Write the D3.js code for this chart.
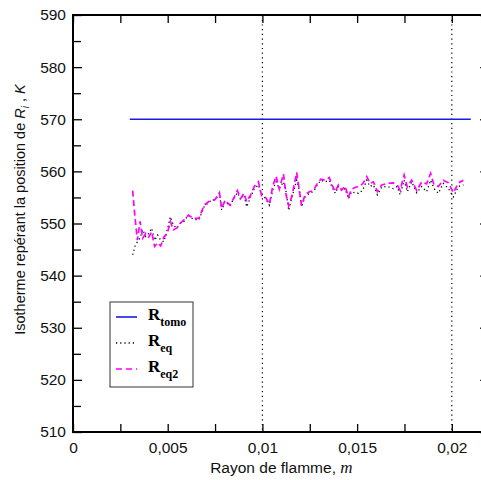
<!DOCTYPE html>
<html><head><meta charset="utf-8">
<script src="https://cdn.jsdelivr.net/npm/d3@7"></script>
<style>body{margin:0;background:#fff;overflow:hidden}svg{display:block;overflow:hidden}</style>
</head><body>
<svg id="c" width="481" height="480"></svg>
<script>
const xVals = [0.00315,0.00327,0.00340,0.00354,0.00368,0.00384,0.00400,0.00415,0.00431,0.00447,0.00463,0.00480,0.00498,0.00514,0.00530,0.00547,0.00565,0.00586,0.00609,0.00635,0.00665,0.00692,0.00720,0.00750,0.00773,0.00785,0.00803,0.00829,0.00852,0.00868,0.00885,0.00903,0.00917,0.00938,0.00957,0.00979,0.00996,0.01017,0.01037,0.01054,0.01072,0.01089,0.01111,0.01125,0.01139,0.01156,0.01181,0.01195,0.01207,0.01225,0.01248,0.01269,0.01290,0.01308,0.01331,0.01353,0.01371,0.01385,0.01401,0.01419,0.01436,0.01454,0.01471,0.01494,0.01515,0.01533,0.01551,0.01568,0.01586,0.01607,0.01630,0.01660,0.01691,0.01712,0.01727,0.01748,0.01765,0.01788,0.01815,0.01841,0.01867,0.01888,0.01906,0.01929,0.01955,0.01982,0.02008,0.02035,0.02061];
const rEq2 = [556.3,551.3,546.8,550.4,547.2,548.1,547.4,548.4,545.6,546.3,545.7,547.4,548.1,550.4,548.8,549.1,550.0,550.7,551.6,551.0,551.0,553.5,554.3,554.6,555.9,552.9,554.5,553.5,555.1,556.3,554.8,555.8,554.2,555.5,557.1,558.0,555.3,555.0,553.7,557.1,559.1,556.6,559.5,555.5,553.4,555.3,559.8,556.3,553.4,555.5,556.1,556.3,557.7,558.5,558.3,558.8,557.1,556.1,557.4,556.4,557.2,555.1,556.6,557.0,557.1,557.8,559.0,557.7,558.0,556.1,557.4,557.7,557.8,557.4,556.4,559.3,557.0,558.3,556.3,558.0,557.6,559.6,557.4,557.1,558.3,557.8,555.9,557.8,558.3];
const rEq = [544.0,545.6,546.5,547.2,548.8,547.5,548.1,549.1,546.8,547.8,546.8,546.5,548.8,551.3,549.7,549.1,550.0,550.4,551.6,550.8,550.7,553.2,554.2,554.5,555.8,552.6,554.2,553.4,555.0,555.9,554.6,555.5,553.2,555.1,556.7,557.4,555.5,554.8,553.5,556.4,558.0,556.7,558.0,556.1,552.5,555.1,558.3,556.4,553.2,555.1,555.8,556.1,557.4,558.3,558.0,558.3,556.7,555.8,557.1,556.3,556.7,554.8,556.1,555.8,555.8,556.7,558.3,557.1,557.4,555.5,557.0,557.1,556.7,557.1,555.5,558.3,556.1,558.0,555.9,557.1,556.1,558.3,556.7,555.8,557.7,556.7,555.1,557.1,557.4];
const rTomoX = [0.003, 0.021];
const rTomo = [570, 570];
const gridX = [0.01, 0.02];
const xTicks = [0, 0.005, 0.01, 0.015, 0.02];
const xTickLabels = ["0", "0,005", "0,01", "0,015", "0,02"];
const yTicks = [510, 520, 530, 540, 550, 560, 570, 580, 590];
const legendNames = ["tomo", "eq", "eq2"];

const svg = d3.select("#c");
const L = 73, R = 489.7, T = 15, B = 432;
const x = d3.scaleLinear().domain([0, 0.022]).range([L, R]);
const y = d3.scaleLinear().domain([510, 590]).range([B, T]);

// gridlines
svg.append("g").selectAll("line").data(gridX).join("line")
  .attr("x1", d => x(d)).attr("x2", d => x(d)).attr("y1", T).attr("y2", B)
  .attr("stroke", "#000").attr("stroke-width", 1.2).attr("stroke-dasharray", "1.2,3.5");

const font = "'Liberation Sans', Arial, sans-serif";

// axes with inward ticks
const xMinor = d3.range(0, 0.0221, 0.0025);
const yMinor = d3.range(515, 590, 10);
const ax = svg.append("g");
function tickAxis(gen, transform) {
  ax.append("g").attr("transform", transform).call(gen)
    .call(g => g.select(".domain").remove())
    .call(g => g.selectAll("line").attr("stroke", "#000").attr("stroke-width", 1.3));
}
tickAxis(d3.axisBottom(x).tickValues(xMinor).tickSize(-8).tickFormat(""), `translate(0,${B})`);
tickAxis(d3.axisTop(x).tickValues(xMinor).tickSize(-8).tickFormat(""), `translate(0,${T})`);
tickAxis(d3.axisLeft(y).tickValues(yTicks).tickSize(-9).tickFormat(""), `translate(${L},0)`);
tickAxis(d3.axisLeft(y).tickValues(yMinor).tickSize(-8).tickFormat(""), `translate(${L},0)`);
tickAxis(d3.axisRight(y).tickValues(yTicks).tickSize(-9.5).tickFormat(""), `translate(${R},0)`);
tickAxis(d3.axisRight(y).tickValues(yMinor).tickSize(-6).tickFormat(""), `translate(${R},0)`);

// labels
const xl = svg.append("g").attr("transform", `translate(0,${B})`)
  .call(d3.axisBottom(x).tickValues(xTicks).tickSize(0).tickPadding(8).tickFormat((d, i) => xTickLabels[i]));
xl.select(".domain").remove();
xl.selectAll("text").attr("font-family", font).attr("font-size", 15.5).attr("fill", "#111").attr("dy", "0.85em");
const yl = svg.append("g").attr("transform", `translate(${L},0)`)
  .call(d3.axisLeft(y).tickValues(yTicks).tickSize(0).tickPadding(7).tickFormat(d3.format("d")));
yl.select(".domain").remove();
yl.selectAll("text").attr("font-family", font).attr("font-size", 15.5).attr("fill", "#111");

// frame
svg.append("rect").attr("x", L).attr("y", T).attr("width", R - L).attr("height", B - T)
  .attr("fill", "none").attr("stroke", "#000").attr("stroke-width", 2);

// series
const line = d3.line().x(d => x(d[0])).y(d => y(d[1]));
svg.append("path").datum(rTomoX.map((d, i) => [d, rTomo[i]])).attr("d", line)
  .attr("fill", "none").attr("stroke", "#1a1ae6").attr("stroke-width", 1.6);
svg.append("path").datum(xVals.map((d, i) => [d, rEq[i]])).attr("d", line)
  .attr("fill", "none").attr("stroke", "#000").attr("stroke-width", 1.3).attr("stroke-dasharray", "1.2,3");
svg.append("path").datum(xVals.map((d, i) => [d, rEq2[i]])).attr("d", line)
  .attr("fill", "none").attr("stroke", "#ff00ff").attr("stroke-width", 1.7).attr("stroke-dasharray", "6,3.5");

// axis titles
svg.append("text").attr("x", x(0.011)).attr("y", 473).attr("text-anchor", "middle")
  .attr("font-family", font).attr("font-size", 15.5).attr("fill", "#111")
  .text("Rayon de flamme, ")
  .append("tspan").attr("font-family", "'Liberation Serif', 'Times New Roman', serif").attr("font-style", "italic").attr("font-size", 17).text("m");
const yt = svg.append("text").attr("transform", `translate(25,${(T + B) / 2 - 14}) rotate(-90)`).attr("text-anchor", "middle")
  .attr("font-family", font).attr("font-size", 14.5).attr("fill", "#111");
yt.append("tspan").text("Isotherme repérant la position de ");
yt.append("tspan").attr("font-style", "italic").text("R");
yt.append("tspan").attr("font-style", "italic").attr("font-size", 10).attr("dy", 4).text("i");
yt.append("tspan").attr("dy", -4).text(" , ");
yt.append("tspan").attr("font-style", "italic").text("K");

// legend
const lg = svg.append("g");
lg.append("rect").attr("x", 110).attr("y", 302).attr("width", 83).attr("height", 85)
  .attr("fill", "#fff").attr("stroke", "#333").attr("stroke-width", 1);
const styles = [
  {stroke: "#1a1ae6", dash: null, w: 1.6},
  {stroke: "#000", dash: "1.2,3", w: 1.3},
  {stroke: "#ff00ff", dash: "6,4", w: 1.7}
];
legendNames.forEach((n, i) => {
  const cy = 317 + i * 26;
  lg.append("line").attr("x1", 116).attr("x2", 137).attr("y1", cy).attr("y2", cy)
    .attr("stroke", styles[i].stroke).attr("stroke-width", styles[i].w)
    .attr("stroke-dasharray", styles[i].dash);
  const t = lg.append("text").attr("x", 148).attr("y", cy + 3)
    .attr("font-family", "'Liberation Serif', 'Times New Roman', serif").attr("font-weight", "bold").attr("font-size", 17).attr("fill", "#000");
  t.append("tspan").text("R");
  t.append("tspan").attr("font-size", 12).attr("dy", 6).text(n);
});
</script>
</body></html>
